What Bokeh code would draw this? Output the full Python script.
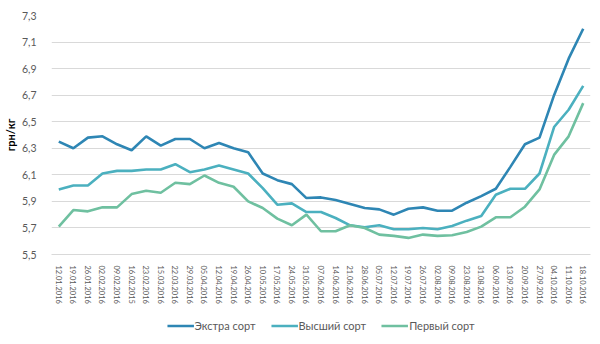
from bokeh.plotting import figure
from bokeh.layouts import column
from bokeh.models import FactorRange, Range1d, FixedTicker, Legend, LegendItem, ColumnDataSource
from bokeh.embed import file_html
from bokeh.resources import INLINE

dates = ["12.01.2016", "19.01.2016", "26.01.2016", "02.02.2016", "09.02.2016",
         "16.02.2015", "23.02.2016", "15.03.2016", "22.03.2016", "29.03.2016",
         "05.04.2016", "12.04.2016", "19.04.2016", "26.04.2016", "10.05.2016",
         "17.05.2016", "24.05.2016", "31.05.2016", "07.06.2016", "14.06.2016",
         "21.06.2016", "28.06.2016", "05.07.2016", "12.07.2016", "19.07.2016",
         "26.07.2016", "02.08.2016", "09.08.2016", "23.08.2016", "31.08.2016",
         "06.09.2016", "13.09.2016", "20.09.2016", "27.09.2016", "04.10.2016",
         "11.10.2016", "18.10.2016"]

extra = [6.35, 6.30, 6.38, 6.39, 6.33, 6.285, 6.39, 6.32, 6.37, 6.37,
         6.30, 6.34, 6.30, 6.27, 6.11, 6.06, 6.03, 5.925, 5.93, 5.91,
         5.88, 5.85, 5.84, 5.80, 5.845, 5.855, 5.83, 5.83, 5.89, 5.94,
         5.995, 6.16, 6.33, 6.38, 6.70, 6.975, 7.20]

highest = [5.99, 6.02, 6.02, 6.11, 6.13, 6.13, 6.14, 6.14, 6.18, 6.12,
           6.14, 6.17, 6.14, 6.11, 6.00, 5.875, 5.885, 5.82, 5.82, 5.775,
           5.72, 5.705, 5.72, 5.69, 5.69, 5.70, 5.69, 5.715, 5.755, 5.79,
           5.95, 5.995, 5.995, 6.11, 6.46, 6.59, 6.77]

first = [5.71, 5.835, 5.825, 5.855, 5.855, 5.955, 5.98, 5.965, 6.04, 6.03,
         6.095, 6.04, 6.01, 5.90, 5.85, 5.77, 5.72, 5.80, 5.675, 5.675,
         5.72, 5.70, 5.65, 5.64, 5.625, 5.65, 5.64, 5.645, 5.67, 5.71,
         5.78, 5.78, 5.86, 5.99, 6.25, 6.39, 6.64]

series_names = ["Экстра сорт", "Высший сорт", "Первый сорт"]
series_colors = ["#2e86b4", "#4bb0bf", "#6fc0a0"]

y_ticks = [5.5, 5.7, 5.9, 6.1, 6.3, 6.5, 6.7, 6.9, 7.1, 7.3]
y_tick_labels = ["5,5", "5,7", "5,9", "6,1", "6,3", "6,5", "6,7", "6,9", "7,1", "7,3"]

FONT = "Lato"
GREY = "#595959"

src = ColumnDataSource(dict(x=dates, extra=extra, highest=highest, first=first))

p = figure(width=600, height=306, output_backend="svg", toolbar_location=None,
           x_range=FactorRange(*dates, range_padding=0), y_range=Range1d(5.5, 7.3))
p.min_border_left = 42
p.min_border_right = 10
p.min_border_top = 15
p.min_border_bottom = 51
p.outline_line_color = None
p.background_fill_color = "white"
p.border_fill_color = "white"

for key, color in zip(["extra", "highest", "first"], series_colors):
    p.line("x", key, source=src, line_color=color, line_width=2.6)

p.xgrid.grid_line_color = None
p.ygrid.grid_line_color = "#d9d9d9"
p.ygrid.grid_line_width = 1

p.yaxis.ticker = FixedTicker(ticks=y_ticks)
p.yaxis.major_label_overrides = {t: l for t, l in zip(y_ticks, y_tick_labels)}
p.yaxis.axis_line_color = None
p.yaxis.major_tick_line_color = None
p.yaxis.minor_tick_line_color = None
p.yaxis.major_label_text_font = FONT
p.yaxis.major_label_text_font_size = "10.5px"
p.yaxis.major_label_text_color = GREY
p.yaxis.major_label_standoff = 9
p.yaxis.axis_label = "грн/кг"
p.yaxis.axis_label_text_font = FONT
p.yaxis.axis_label_text_font_style = "bold"
p.yaxis.axis_label_text_font_size = "11px"
p.yaxis.axis_label_text_color = "#000000"
p.yaxis.axis_label_standoff = 2

p.xaxis.axis_line_color = "#d9d9d9"
p.xaxis.major_tick_line_color = None
p.xaxis.minor_tick_line_color = None
p.xaxis.major_label_orientation = "vertical"
p.xaxis.major_label_text_font = FONT
p.xaxis.major_label_text_font_size = "7.5px"
p.xaxis.major_label_text_color = GREY
p.xaxis.major_label_standoff = 5

# legend strip below the chart
lg = figure(width=600, height=38, output_backend="svg", toolbar_location=None,
            x_range=Range1d(0, 1), y_range=Range1d(0, 1),
            x_axis_type=None, y_axis_type=None, min_border=0)
lg.outline_line_color = None
lg.grid.visible = False
nan = float("nan")
lg_renderers = [lg.line(x=[0, 0], y=[nan, nan], line_color=c, line_width=2.6) for c in series_colors]

legend = Legend(items=[LegendItem(label=n, renderers=[r]) for n, r in zip(series_names, lg_renderers)],
                orientation="horizontal", location="center")
legend.label_text_font = FONT
legend.label_text_font_size = "11px"
legend.label_text_color = GREY
legend.border_line_color = None
legend.background_fill_alpha = 0
legend.glyph_width = 27
legend.glyph_height = 12
legend.label_height = 12
legend.label_standoff = 1
legend.spacing = 15
legend.padding = 2
legend.margin = 0
lg.add_layout(legend, "center")

layout = column(p, lg, spacing=0)
open("out.html", "w").write(file_html(layout, INLINE))
